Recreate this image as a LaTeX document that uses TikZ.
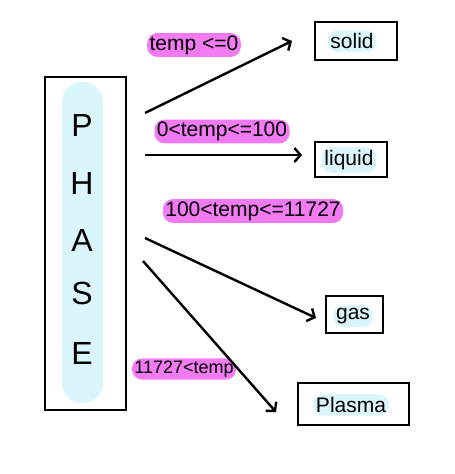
\documentclass[tikz,border=0pt]{standalone}
\usepackage{fontspec}
\setmainfont{Liberation Sans}
\usetikzlibrary{positioning,arrows.meta,calc}
\definecolor{pillpink}{RGB}{242,122,242}
\definecolor{pillblue}{RGB}{218,245,252}
\tikzset{
  flowarrow/.style={-{Straight Barb[length=3pt,width=7pt]}, line width=1.2pt},
  phasebox/.style={draw, line width=1pt, minimum width=40.5pt, minimum height=166.5pt},
  phasebar/.style={fill=pillblue, rounded corners=10pt, minimum width=20.5pt, minimum height=160.5pt},
  letternode/.style={font=\fontsize{16}{18}\selectfont, inner sep=0pt},
  statebox/.style={draw, line width=1pt, inner sep=0pt},
  statetext/.style={fill=pillblue, rounded corners=5pt, inner sep=1.5pt, font=\fontsize{10.5}{12}\selectfont},
  condlabel/.style={fill=pillpink, rounded corners=5pt, inner sep=1.2pt, font=\fontsize{10.5}{12}\selectfont}
}
\begin{document}
\begin{tikzpicture}[x=0.5pt, y=-0.5pt]
  \useasboundingbox (0,0) rectangle (454,474);
  % phase column
  \node[phasebox] (phase) at (85.5,243.5) {};
  \node[phasebar] (bar) at (82.5,242.5) {};
  \foreach \ch/\y in {P/125,H/183,A/240,S/293,E/353}
    \node[letternode] (l-\ch) at (82,\y) {\ch};
  % states
  \node[statebox, minimum width=41pt, minimum height=19pt] (solid) at (356,41) {};
  \node[statetext] (solid-t) at (352,41) {solid};
  \node[statebox, minimum width=36pt, minimum height=17.5pt] (liquid) at (351,159.5) {};
  \node[statetext] (liquid-t) at (349,160) {liquid};
  \node[statebox, minimum width=28.5pt, minimum height=18.5pt] (gas) at (354.5,314.5) {};
  \node[statetext] (gas-t) at (353,316) {gas};
  \node[statebox, minimum width=55.5pt, minimum height=21pt] (plasma) at (353.5,404) {};
  \node[statetext] (plasma-t) at (351,405) {Plasma};
  % conditions
  \node[condlabel] (c1) at (194,45) {temp <=0};
  \node[condlabel] (c2) at (222,131.5) {0<temp<=100};
  \node[condlabel] (c3) at (253,211) {100<temp<=11727};
  \node[condlabel, font=\fontsize{9}{10}\selectfont] (c4) at (184,369) {11727<temp};
  % arrows
  \coordinate (s1) at (145,113);
  \coordinate (s2) at (145,155);
  \coordinate (s3) at (145,238);
  \coordinate (s4) at (143,261);
  \draw[flowarrow] (s1) -- ($(solid.west)+(-22,0)$);
  \draw[flowarrow] (s2) -- ($(liquid.west)+(-12,-4.5)$);
  \draw[flowarrow] (s3) -- ($(gas.west)+(-9,3.5)$);
  \draw[flowarrow] (s4) -- ($(plasma.west)+(-21,8)$);
\end{tikzpicture}
\end{document}
